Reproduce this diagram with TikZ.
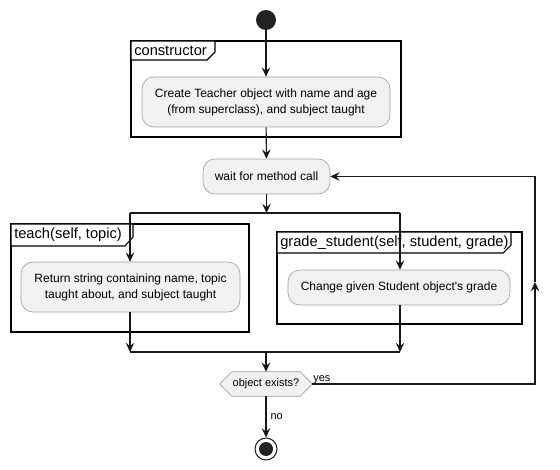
\documentclass[tikz,border=0pt]{standalone}
\usepackage{fontspec}
\setmainfont{Liberation Sans}
\usetikzlibrary{arrows.meta}

\definecolor{actfill}{HTML}{F1F1F1}
\definecolor{ink}{HTML}{181818}
\definecolor{dot}{HTML}{222222}

\tikzset{
  action/.style={draw=gray!75, line width=0.5pt, fill=actfill, rounded corners=9pt,
    align=center, inner sep=0pt, font=\fontsize{9}{12}\selectfont},
  frame/.style={draw=black, line width=1.4pt},
  tab/.style={draw=black, line width=0.8pt, fill=white},
  tabtext/.style={anchor=west, inner sep=0pt, font=\fontsize{11}{13}\selectfont},
  flow/.style={draw=ink, line width=0.8pt, ->},
  bar/.style={draw=ink, line width=1.4pt},
  guard/.style={inner sep=0pt, font=\fontsize{8.25}{10}\selectfont}
}

\begin{document}
\begin{tikzpicture}[x=0.75pt, y=-0.75pt, >={Stealth[length=7pt, width=6.5pt, inset=2.6pt]}]
  \useasboundingbox (0,0) rectangle (560,470);

  % frames round the method bodies
  \draw[frame] (131,41) rectangle (401,137);
  \draw[tab] (131,41) -- (215,41) -- (215,52) -- (207,60) -- (131,60) -- cycle;
  \node[tabtext] (ctorname) at (134,50.5) {constructor};

  \draw[frame] (11,224) rectangle (249,332);
  \draw[tab] (11,224) -- (133,224) -- (133,237) -- (125,246) -- (11,246) -- cycle;
  \node[tabtext] (teachname) at (14,235) {teach(self, topic)};

  \draw[frame] (277,232) rectangle (522,324);
  \draw[tab] (277,232) -- (511,232) -- (511,245) -- (503,253) -- (277,253) -- cycle;
  \node[tabtext] (gradename) at (280,243) {grade\_student(self, student, grade)};

  % nodes
  \node[circle, fill=dot, minimum size=15pt, inner sep=0pt] (start) at (266,20) {};
  \node[action, minimum width=186pt, minimum height=37.5pt] (create) at (266,102)
    {Create Teacher object with name and age\\(from superclass), and subject taught};
  \node[action, minimum width=95.25pt, minimum height=26.25pt] (wait) at (266.5,176.5)
    {wait for method call};
  \node[action, minimum width=164.25pt, minimum height=37.5pt] (teach) at (130.5,287)
    {Return string containing name, topic\\taught about, and subject taught};
  \node[action, minimum width=166.5pt, minimum height=26.25pt] (grade) at (399,287.5)
    {Change given Student object\textquotesingle s grade};
  \node[inner sep=0pt, minimum width=69pt, minimum height=18pt,
    font=\fontsize{8.25}{10}\selectfont] (check) at (266,384) {object exists?};
  \draw[draw=gray!75, line width=0.5pt, fill=actfill]
    (check.west) -- ([xshift=9pt]check.north west) -- ([xshift=-9pt]check.north east)
    -- (check.east) -- ([xshift=-9pt]check.south east) -- ([xshift=9pt]check.south west) -- cycle;
  \node[inner sep=0pt, font=\fontsize{8.25}{10}\selectfont] at (check) {object exists?};
  \node[circle, draw=dot, line width=0.8pt, fill=white, minimum size=16.5pt, inner sep=0pt] (stop) at (266,449) {};
  \fill[dot] (stop.center) circle (5.25pt);

  % fork and merge bars
  \coordinate (forkL) at (130,213);
  \coordinate (forkM) at (266.5,213);
  \coordinate (forkR) at (400,213);
  \coordinate (mergeL) at (130,352);
  \coordinate (mergeM) at (266,352);
  \coordinate (mergeR) at (400,352);
  \draw[bar] (forkL) -- (forkR);
  \draw[bar] (mergeL) -- (mergeR);

  % connectors
  \draw[flow] (start) -- (create);
  \draw[flow] (create) -- (wait);
  \draw[flow] (wait) -- (forkM);
  \draw[flow] (forkL) -- (forkL |- teach.north);
  \draw[flow] (forkR) -- (forkR |- grade.north);
  \draw[flow] (teach.south -| mergeL) -- (mergeL);
  \draw[flow] (grade.south -| mergeR) -- (mergeR);
  \draw[flow] (mergeM) -- (check);
  \draw[flow] (check) -- node[guard, right=3pt] {no} (stop);

  % loop back
  \coordinate (loopA) at (535,384);
  \coordinate (loopB) at (535,282);
  \coordinate (loopC) at (535,176.5);
  \draw[flow] (check.east) -- (loopA) -- (loopB);
  \draw[flow] (loopB) -- (loopC) -- (wait.east);
  \node[guard, anchor=base west] (yes) at (313,381) {yes};
\end{tikzpicture}
\end{document}
